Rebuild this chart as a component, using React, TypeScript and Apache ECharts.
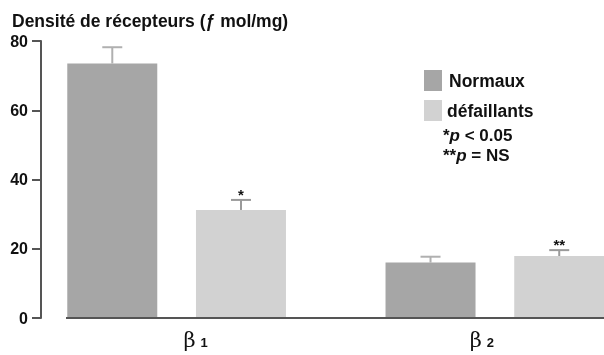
import React, { useEffect, useRef } from "react";
import * as echarts from "echarts";

// ---- Data ----
const categories = ["1", "2"]; // subscripts of β
const normaux = [73.5, 16.0];
const defaillants = [31.2, 17.9];
const normauxErrTop = [78.2, 17.7];
const defaillantsErrTop = [34.1, 19.6];
const defaillantsSig = ["*", "**"];
const seriesNames = ["Normaux", "défaillants"];
const yMin = 0;
const yMax = 80;
const yInterval = 20;

// ---- Style / layout ----
const FONT = "'Liberation Sans', Arial, sans-serif";
const DARK = "#a6a6a6";
const LIGHT = "#d2d2d2";
const BAR_W = 90;
const BAR_GAP = 0.43;
const OFFSET = (BAR_W + BAR_W * BAR_GAP) / 2;
const AXIS_COLOR = "#555";

export default function App() {
  const ref = useRef<HTMLDivElement>(null);
  useEffect(() => {
    if (!ref.current) return;
    const chart = echarts.init(ref.current, undefined, { renderer: "svg" });

    const errSeries = (name: string, tops: number[], vals: number[], sig: string[] | null, dir: number, color: string) => ({
      type: "custom",
      name,
      z: 5,
      data: vals.map((v, i) => [i, tops[i], v]),
      renderItem: (params: any, api: any) => {
        const idx = api.value(0);
        const pTop = api.coord([idx, api.value(1)]);
        const pBase = api.coord([idx, api.value(2)]);
        const x = pTop[0] + dir * OFFSET;
        const s = sig ? sig[params.dataIndex] : "";
        const children: any[] = [
          { type: "line", shape: { x1: x, y1: pBase[1], x2: x, y2: pTop[1] }, style: { stroke: color, lineWidth: 2 } },
          { type: "line", shape: { x1: x - 10, y1: pTop[1], x2: x + 10, y2: pTop[1] }, style: { stroke: color, lineWidth: 2 } },
        ];
        if (s) {
          children.push({
            type: "text",
            style: { text: s, x: x, y: pTop[1] + 2, align: "center", verticalAlign: "bottom", fontSize: 15, fontWeight: "bold", fill: "#111", fontFamily: FONT },
          });
        }
        return { type: "group", children };
      },
    });

    chart.setOption({
      animation: false,
      title: {
        text: "Densité de récepteurs (ƒ mol/mg)",
        left: 12,
        top: 12,
        padding: 0,
        textStyle: { fontSize: 17.5, fontWeight: "bold", color: "#111", fontFamily: FONT },
      },
      legend: {
        data: seriesNames,
        orient: "vertical",
        left: 419,
        top: 65,
        itemWidth: 18,
        itemHeight: 21,
        itemGap: 9,
        icon: "rect",
        selectedMode: false,
        formatter: (name: string) => (name === "Normaux" ? "{p| }{t|" + name + "}" : "{t|" + name + "}"),
        textStyle: {
          fontFamily: FONT,
          rich: {
            p: { width: 2 },
            t: { fontSize: 17.5, fontWeight: "bold", color: "#111", fontFamily: FONT },
          },
        },
      },
      grid: { left: 17.5, width: 636.5, top: 41, bottom: 37, containLabel: false, outerBoundsMode: "none" },
      xAxis: {
        type: "category",
        data: categories,
        axisLine: { show: false },
        axisTick: { show: false },
        axisLabel: {
          margin: 11,
          interval: 0,
          formatter: (v: string, i: number) => (i === 0 ? "{g1| }{b|β}{s|" + v + "}" : "{b|β}{s|" + v + "}{g2| }"),
          rich: {
            g1: { width: 38 },
            g2: { width: 26 },
            b: { fontSize: 21, color: "#111", fontFamily: "'DejaVu Serif', serif" },
            s: { fontSize: 13, fontWeight: "bold", color: "#111", fontFamily: FONT, padding: [6, 0, 0, 5] },
          },
        },
      },
      yAxis: {
        type: "value",
        min: yMin,
        max: yMax,
        interval: yInterval,
        offset: -23.5,
        splitLine: { show: false },
        axisLine: { show: true, lineStyle: { color: AXIS_COLOR, width: 2 } },
        axisTick: { show: true, length: 9, lineStyle: { color: AXIS_COLOR, width: 2 } },
        axisLabel: { margin: 13, fontSize: 16, fontWeight: "bold", color: "#111", fontFamily: FONT },
      },
      graphic: [
        { type: "line", shape: { x1: 66, y1: 318, x2: 604, y2: 318 }, style: { stroke: AXIS_COLOR, lineWidth: 2 }, z: 10 },
        {
          type: "text",
          left: 443,
          top: 127,
          style: {
            text: "{a|*}{i|p}{a| < 0.05}",
            rich: {
              a: { fontSize: 17, fontWeight: "bold", fill: "#111", fontFamily: FONT },
              i: { fontSize: 17, fontWeight: "bold", fontStyle: "italic", fill: "#111", fontFamily: FONT },
            },
          },
        },
        {
          type: "text",
          left: 443,
          top: 147,
          style: {
            text: "{a|**}{i|p}{a| = NS}",
            rich: {
              a: { fontSize: 17, fontWeight: "bold", fill: "#111", fontFamily: FONT },
              i: { fontSize: 17, fontWeight: "bold", fontStyle: "italic", fill: "#111", fontFamily: FONT },
            },
          },
        },
      ],
      series: [
        { type: "bar", name: seriesNames[0], data: normaux, barWidth: BAR_W, barGap: "43%", itemStyle: { color: DARK } },
        { type: "bar", name: seriesNames[1], data: defaillants, barWidth: BAR_W, barGap: "43%", itemStyle: { color: LIGHT } },
        errSeries("errN", normauxErrTop, normaux, null, -1, "#b0b0b0"),
        errSeries("errD", defaillantsErrTop, defaillants, defaillantsSig, 1, "#9a9a9a"),
      ],
    });
    return () => chart.dispose();
  }, []);
  return <div ref={ref} style={{ position: "fixed", left: 0, top: 0, width: 604, height: 355 }} />;
}
